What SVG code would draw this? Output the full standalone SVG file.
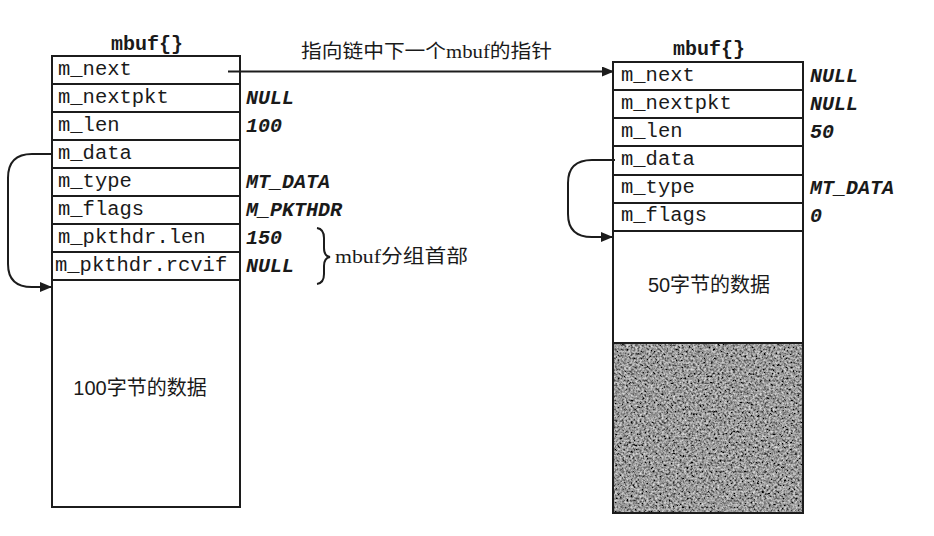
<svg xmlns="http://www.w3.org/2000/svg" width="934" height="536" viewBox="0 0 934 536">
<style>
.box{fill:#fff;stroke:#1c1c1c;stroke-width:2}
.sep{stroke:#1c1c1c;stroke-width:2.2}
.fld{font-family:"Liberation Mono","DejaVu Sans Mono",monospace;font-size:20.5px;fill:#1a1a1a}
.val{font-family:"Liberation Mono","DejaVu Sans Mono",monospace;font-size:20px;font-style:italic;font-weight:bold;fill:#1a1a1a}
.ttl{font-family:"Liberation Mono","DejaVu Sans Mono",monospace;font-size:20px;font-weight:bold;fill:#1a1a1a;text-anchor:middle}
.cjk{font-family:"Liberation Serif","Noto Sans CJK SC",serif;font-size:19px;fill:#1a1a1a}
.dat{font-family:"Liberation Sans","Noto Sans CJK SC",sans-serif;font-size:20px;fill:#1a1a1a;text-anchor:middle}
.con{fill:none;stroke:#1c1c1c;stroke-width:2}
</style>
<defs>
<marker id="ah" viewBox="0 0 12 10" refX="12" refY="5" markerWidth="12" markerHeight="10" markerUnits="userSpaceOnUse" orient="auto">
<path d="M0,0 L12,5 L0,10 Z" fill="#1c1c1c"/>
</marker>
<filter id="grain" x="0" y="0" width="100%" height="100%">
<feTurbulence type="fractalNoise" baseFrequency="0.45" numOctaves="3" seed="7" result="n"/>
<feColorMatrix in="n" type="matrix" values="1.2 0 0 0 -0.28  1.2 0 0 0 -0.28  1.2 0 0 0 -0.28  0 0 0 0 1"/>
</filter>
</defs>
<rect width="934" height="536" fill="#fff"/>

<g id="mbuf-left">
<text class="ttl" x="147" y="50">mbuf{}</text>
<rect class="box" x="52" y="56" width="188" height="451"/>
<line class="sep" x1="52" y1="84" x2="240" y2="84"/>
<line class="sep" x1="52" y1="112" x2="240" y2="112"/>
<line class="sep" x1="52" y1="140" x2="240" y2="140"/>
<line class="sep" x1="52" y1="168" x2="240" y2="168"/>
<line class="sep" x1="52" y1="196" x2="240" y2="196"/>
<line class="sep" x1="52" y1="224" x2="240" y2="224"/>
<line class="sep" x1="52" y1="252" x2="240" y2="252"/>
<line class="sep" x1="52" y1="280" x2="240" y2="280"/>
<text class="fld" x="58" y="75">m_next</text>
<text class="fld" x="58" y="103">m_nextpkt</text>
<text class="fld" x="58" y="131">m_len</text>
<text class="fld" x="58" y="159">m_data</text>
<text class="fld" x="58" y="187">m_type</text>
<text class="fld" x="58" y="215">m_flags</text>
<text class="fld" x="58" y="243">m_pkthdr.len</text>
<text class="fld" x="55" y="271">m_pkthdr.rcvif</text>
<text class="val" x="246" y="104">NULL</text>
<text class="val" x="246" y="132">100</text>
<text class="val" x="246" y="188">MT_DATA</text>
<text class="val" x="246" y="216">M_PKTHDR</text>
<text class="val" x="246" y="244">150</text>
<text class="val" x="246" y="272">NULL</text>
<text class="dat" x="140" y="395">100字节的数据</text>
</g>

<g id="mbuf-right">
<text class="ttl" x="709" y="55">mbuf{}</text>
<rect x="613" y="343" width="190" height="170" fill="#555"/>
<rect x="613" y="343" width="190" height="170" filter="url(#grain)"/>
<rect class="box" x="613" y="62" width="190" height="451" style="fill:none"/>
<rect x="614" y="232" width="188" height="111" fill="#fff"/>
<line class="sep" x1="613" y1="90" x2="803" y2="90"/>
<line class="sep" x1="613" y1="118" x2="803" y2="118"/>
<line class="sep" x1="613" y1="146" x2="803" y2="146"/>
<line class="sep" x1="613" y1="175" x2="803" y2="175"/>
<line class="sep" x1="613" y1="203" x2="803" y2="203"/>
<line class="sep" x1="613" y1="231" x2="803" y2="231"/>
<line class="sep" x1="613" y1="343" x2="803" y2="343"/>
<text class="fld" x="621" y="81">m_next</text>
<text class="fld" x="621" y="109">m_nextpkt</text>
<text class="fld" x="621" y="137">m_len</text>
<text class="fld" x="621" y="165">m_data</text>
<text class="fld" x="621" y="193">m_type</text>
<text class="fld" x="621" y="221">m_flags</text>
<text class="val" x="810" y="82">NULL</text>
<text class="val" x="810" y="110">NULL</text>
<text class="val" x="810" y="138">50</text>
<text class="val" x="810" y="194">MT_DATA</text>
<text class="val" x="810" y="222">0</text>
<text class="dat" x="709" y="292">50字节的数据</text>
</g>

<g id="label-next">
<text class="cjk" x="301" y="58" textLength="251" lengthAdjust="spacingAndGlyphs">指向链中下一个mbuf的指针</text>
</g>

<g id="label-pkthdr">
<path class="con" d="M317,228 Q324,229 324,238 L324,248 Q324,256 330,257 Q324,258 324,266 L324,274 Q324,283 317,284"/>
<text class="cjk" x="335" y="263" textLength="133" lengthAdjust="spacingAndGlyphs">mbuf分组首部</text>
</g>

<g id="connectors">
<path class="con" d="M228,71.5 L614,71.5" marker-end="url(#ah)"/>
<path class="con" d="M52,154 L32,154 Q8,154 8,178 L8,264 Q8,287 32,287 L52,287" marker-end="url(#ah)"/>
<path class="con" d="M615,160 L592,160 Q568,160 568,183 L568,214 Q568,237 592,237 L613,237" marker-end="url(#ah)"/>
</g>
</svg>
